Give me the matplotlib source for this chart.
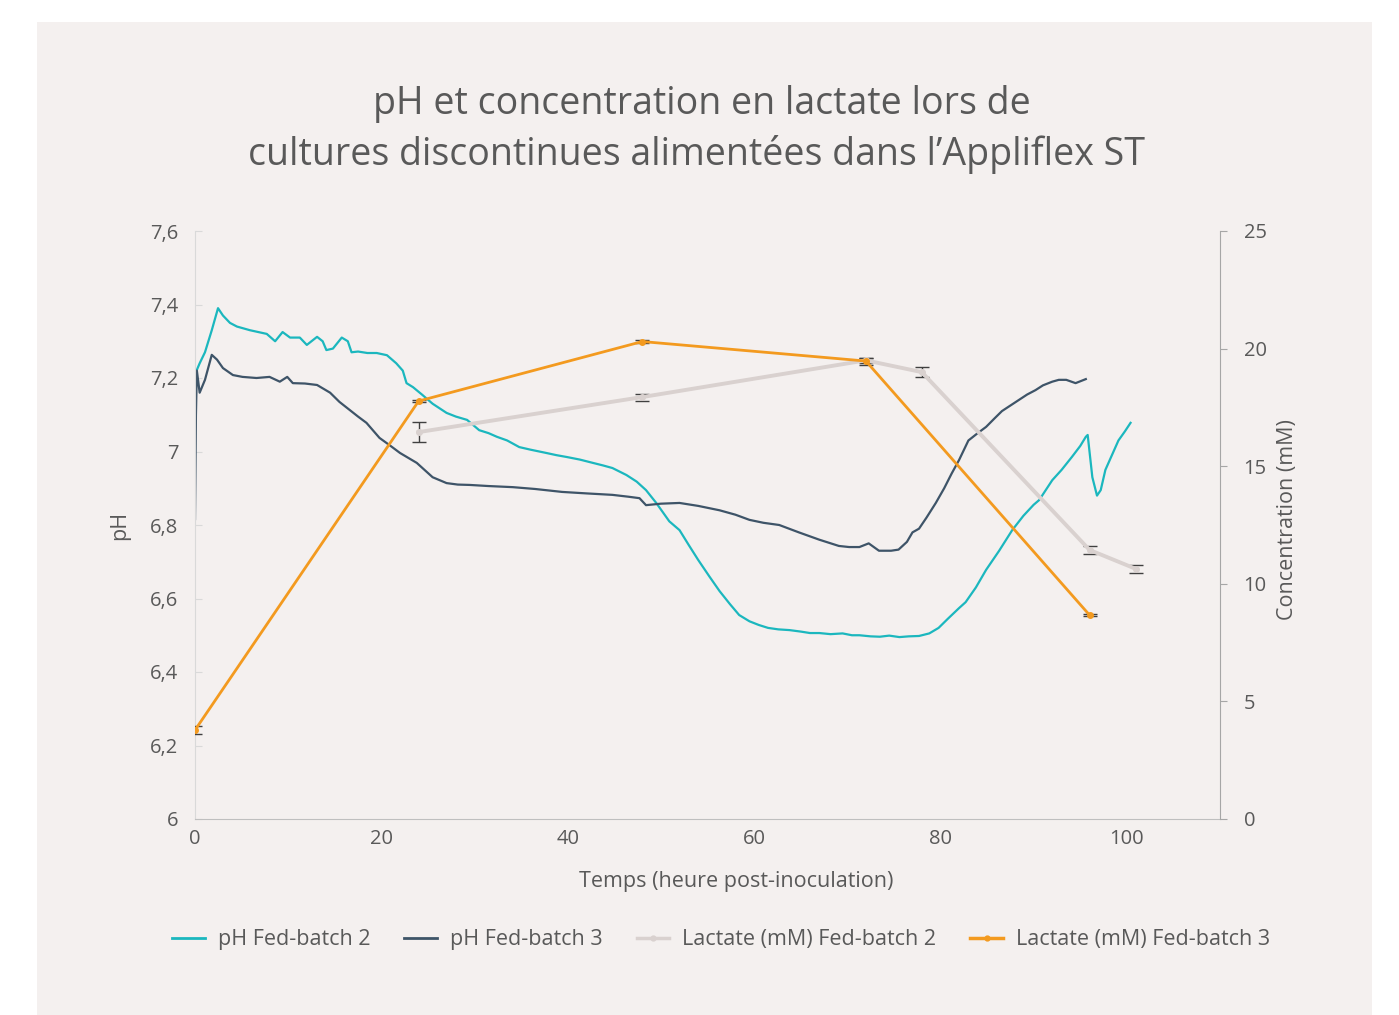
import matplotlib
matplotlib.use("Agg")
import matplotlib.pyplot as plt
from matplotlib.patches import Rectangle
from matplotlib.lines import Line2D
from matplotlib.ticker import FuncFormatter, MultipleLocator

plt.rcParams['font.family'] = ['Open Sans', 'DejaVu Sans']

# pH Fed-batch 2 (lecture de la courbe)
t_ph2 = [0, 0.5, 1.07, 1.8, 2.47, 3.0, 3.75, 4.5, 5.2, 5.9, 6.8, 7.7, 8.6, 9.4, 10.2,
         11.25, 12.0, 13.1, 13.7, 14.1, 14.8, 15.75, 16.4, 16.8, 17.5, 18.5, 19.5, 20.6,
         21.6, 22.3, 22.7, 23.4, 24.4, 25.5, 27.0, 28.0, 29.2, 30.5, 31.5, 32.4, 33.5,
         34.8, 36.0, 37.7, 38.8, 39.9, 41.3, 42.7, 43.8, 44.8, 46.3, 47.4, 48.4, 49.5,
         50.9, 52.0, 53.0, 54.0, 55.2, 56.3, 57.4, 58.4, 59.5, 60.5, 61.5, 62.6, 63.8,
         65.0, 66.0, 67.0, 68.2, 69.5, 70.5, 71.3, 72.5, 73.5, 74.5, 75.6, 76.6, 77.7,
         78.8, 79.8, 80.8, 82.0, 82.7, 83.8, 84.9, 86.3, 87.7, 88.9, 90.0, 90.6, 92.0,
         93.0, 94.1, 95.0, 95.6, 95.8, 96.3, 96.8, 97.2, 97.7, 98.4, 99.1, 99.8, 100.4]
ph2 = [7.21, 7.24, 7.27, 7.33, 7.39, 7.37, 7.35, 7.34, 7.335, 7.33, 7.325, 7.32, 7.30,
       7.325, 7.31, 7.31, 7.29, 7.312, 7.30, 7.276, 7.28, 7.31, 7.30, 7.27, 7.272, 7.268,
       7.268, 7.262, 7.24, 7.22, 7.186, 7.175, 7.154, 7.13, 7.105, 7.095, 7.086, 7.058,
       7.05, 7.04, 7.03, 7.012, 7.005, 6.996, 6.99, 6.985, 6.978, 6.969, 6.962, 6.955,
       6.936, 6.918, 6.895, 6.86, 6.81, 6.786, 6.745, 6.705, 6.66, 6.62, 6.585, 6.555,
       6.538, 6.528, 6.52, 6.516, 6.514, 6.51, 6.506, 6.506, 6.503, 6.505, 6.50, 6.50,
       6.497, 6.496, 6.499, 6.495, 6.497, 6.498, 6.505, 6.52, 6.545, 6.574, 6.59, 6.63,
       6.678, 6.73, 6.786, 6.825, 6.855, 6.868, 6.922, 6.95, 6.985, 7.015, 7.04, 7.045,
       6.93, 6.88, 6.895, 6.95, 6.99, 7.03, 7.055, 7.078]

# pH Fed-batch 3
t_ph3 = [0, 0.1, 0.2, 0.5, 1.07, 1.8, 2.36, 3.0, 4.07, 5.1, 6.6, 8.0, 9.1, 9.9, 10.5,
         11.8, 13.1, 14.5, 15.5, 16.6, 17.5, 18.4, 19.8, 21.0, 22.0, 23.8, 25.5, 27.0,
         28.2, 29.5, 31.5, 34.1, 36.5, 39.4, 42.0, 44.8, 46.5, 47.7, 48.4, 50.0, 52.0,
         54.0, 56.3, 58.0, 59.5, 61.0, 62.7, 64.8, 67.0, 69.1, 70.2, 71.3, 72.3, 73.4,
         74.7, 75.5, 76.4, 77.0, 77.7, 78.5, 79.5, 80.4, 81.2, 82.0, 83.0, 84.0, 84.9,
         85.8, 86.6, 87.5, 88.4, 89.3, 90.2, 91.0, 92.0, 92.7, 93.5, 94.5, 95.6]
ph3 = [6.816, 7.10, 7.22, 7.16, 7.195, 7.263, 7.25, 7.227, 7.208, 7.203, 7.20, 7.203,
       7.19, 7.203, 7.186, 7.185, 7.181, 7.16, 7.135, 7.113, 7.095, 7.078, 7.037, 7.015,
       6.996, 6.969, 6.93, 6.914, 6.91, 6.909, 6.906, 6.903, 6.898, 6.89, 6.886, 6.882,
       6.877, 6.873, 6.854, 6.858, 6.86, 6.852, 6.84, 6.828, 6.814, 6.806, 6.80, 6.78,
       6.76, 6.743, 6.74, 6.74, 6.75, 6.73, 6.73, 6.733, 6.754, 6.78, 6.79, 6.82, 6.86,
       6.9, 6.94, 6.977, 7.03, 7.05, 7.067, 7.09, 7.11, 7.125, 7.14, 7.155, 7.167, 7.18,
       7.19, 7.195, 7.195, 7.186, 7.197]

# Lactate (mM)
t_lac2 = [24, 48, 72, 78, 96, 101]
lac2 = [16.45, 17.94, 19.5, 19.0, 11.44, 10.63]
err_lac2 = [0.42, 0.15, 0.12, 0.2, 0.17, 0.15]

t_lac3 = [0, 24, 48, 72, 96]
lac3 = [3.78, 17.77, 20.3, 19.47, 8.67]
err_lac3 = [0.17, 0.05, 0.08, 0.15, 0.05]

c_ph2 = '#1BB7BE'
c_ph3 = '#3E5468'
c_lac2 = '#D9D1CF'
c_lac3 = '#F39A1F'
gris = '#595959'

fig = plt.figure(figsize=(13.99, 10.15), dpi=100)
fig.patch.set_facecolor('white')
fig.patches.append(Rectangle((37 / 1399, 0), 1335 / 1399, 993 / 1015,
                             transform=fig.transFigure, facecolor='#F4F0EF',
                             edgecolor='none', zorder=-10))

ax = fig.add_axes([195 / 1399, 1 - 819 / 1015, 1025 / 1399, 588 / 1015])
ax.patch.set_alpha(0)
ax2 = ax.twinx()

ax.plot(t_ph2, ph2, color=c_ph2, lw=1.6)
ax.plot(t_ph3, ph3, color=c_ph3, lw=1.6)

ax2.errorbar(t_lac2, lac2, yerr=err_lac2, color=c_lac2, lw=2.8, marker='o', ms=4,
             ecolor='#404040', elinewidth=1, capsize=5, capthick=1)
ax2.errorbar(t_lac3, lac3, yerr=err_lac3, color=c_lac3, lw=2.0, marker='o', ms=4,
             ecolor='#404040', elinewidth=1, capsize=5, capthick=1)

ax.set_xlim(0, 110)
ax.set_ylim(6, 7.6)
ax2.set_ylim(0, 25)
ax.set_xticks([0, 20, 40, 60, 80, 100])
ax.yaxis.set_major_locator(MultipleLocator(0.2))
ax2.yaxis.set_major_locator(MultipleLocator(5))
ax.yaxis.set_major_formatter(FuncFormatter(lambda v, p: f"{round(v, 1):g}".replace('.', ',')))

for s in ['top', 'right']:
    ax.spines[s].set_visible(False)
for s in ['top', 'left', 'bottom']:
    ax2.spines[s].set_visible(False)
ax.spines['left'].set_color('#D9D9D9')
ax.spines['bottom'].set_color('#BFBFBF')
ax2.spines['right'].set_color('#A6A6A6')

ax.tick_params(axis='x', length=0, pad=7, labelsize=14.5, labelcolor=gris)
ax.tick_params(axis='y', direction='in', length=5, color='#D9D9D9', pad=12,
               labelsize=14.5, labelcolor=gris)
ax2.tick_params(axis='y', direction='out', length=5, color='#A6A6A6', pad=12,
                labelsize=14.5, labelcolor=gris)

fig.text(736 / 1399, 1 - 881 / 1015, 'Temps (heure post-inoculation)', fontsize=15.5,
         color=gris, ha='center', va='center')
fig.text(120 / 1399, 1 - 525 / 1015, 'pH', rotation=90, fontsize=15.5, color=gris,
         ha='center', va='center')
fig.text(1288 / 1399, 1 - 520 / 1015, 'Concentration (mM)', rotation=90, fontsize=15.5,
         color=gris, ha='center', va='center')

fig.text(702 / 1399, 1 - 104 / 1015, 'pH et concentration en lactate lors de',
         fontsize=27, color=gris, ha='center', va='center')
fig.text(697 / 1399, 1 - 155 / 1015,
         'cultures discontinues alimentées dans l\u2019Appliflex ST',
         fontsize=27, color=gris, ha='center', va='center')

handles = [Line2D([], [], color=c_ph2, lw=2),
           Line2D([], [], color=c_ph3, lw=2),
           Line2D([], [], color=c_lac2, lw=2.5, marker='o', ms=3.5),
           Line2D([], [], color=c_lac3, lw=2.5, marker='o', ms=3.5)]
labels = ['pH Fed-batch 2', 'pH Fed-batch 3', 'Lactate (mM) Fed-batch 2',
          'Lactate (mM) Fed-batch 3']
fig.legend(handles, labels, loc='center', ncol=4, frameon=False,
           bbox_to_anchor=(721 / 1399, 1 - 940 / 1015), fontsize=15.5,
           labelcolor=gris, handlelength=1.5, columnspacing=1.6, handletextpad=0.6)

fig.savefig('out.png', dpi=100, facecolor=fig.get_facecolor())
